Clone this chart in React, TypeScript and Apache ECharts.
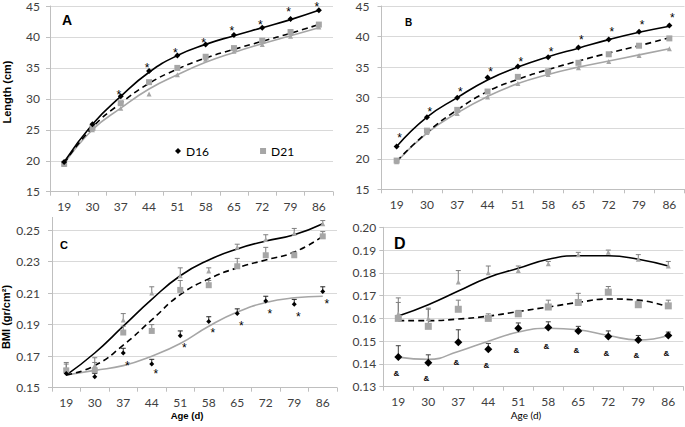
import React, { useEffect, useRef } from 'react';
import * as echarts from 'echarts';

// ---------- data ----------
const ages = ['19', '30', '37', '44', '51', '58', '65', '72', '79', '86'];

// Panel A (Length, cm)
const aDiamond = [19.8, 25.9, 30.4, 34.5, 37.0, 38.8, 40.3, 41.5, 42.9, 44.3];
const aSquare = [19.5, 25.3, 29.3, 32.7, 35.0, 36.8, 38.2, 39.4, 40.8, 42.0];
const aTriangle = [19.4, 25.0, 28.5, 30.8, 33.9, 36.4, 37.7, 38.8, 40.1, 41.6];
const aFitBlack = [19.8, 25.9, 30.4, 34.3, 37.0, 38.8, 40.2, 41.5, 42.8, 44.3];
const aFitDash = [19.6, 25.4, 29.3, 32.5, 34.8, 36.6, 38.0, 39.3, 40.6, 42.0];
const aFitGray = [19.5, 25.0, 28.5, 31.6, 33.9, 35.9, 37.5, 38.9, 40.2, 41.5];
const aStar = [null, null, 30.6, 35.0, 37.4, 39.1, 40.9, 42.0, 44.0, 44.8];

// Panel B (Length, cm)
const bDiamond = [22.0, 26.8, 30.0, 33.3, 35.1, 36.6, 38.2, 39.5, 40.8, 41.8];
const bSquare = [19.7, 24.6, 28.0, 31.0, 33.4, 34.3, 35.7, 37.1, 38.5, 39.7];
const bTriangle = [19.5, 24.3, 27.4, 30.1, 32.3, 33.8, 34.9, 35.9, 36.9, 38.0];
const bFitBlack = [22.0, 26.8, 30.0, 32.9, 35.0, 36.7, 38.1, 39.5, 40.7, 41.7];
const bFitDash = [19.6, 24.3, 28.0, 31.0, 33.0, 34.6, 36.0, 37.3, 38.5, 39.8];
const bFitGray = [19.5, 24.2, 27.5, 30.2, 32.3, 33.8, 35.0, 36.0, 37.0, 38.0];
const bStar = [23.4, 27.7, 31.0, 34.2, 35.9, 37.4, 39.5, 40.7, 41.9, 43.0];

// Panel C (BMI, gr/cm2)
const cTriangle = [0.161, 0.164, 0.193, 0.210, 0.221, 0.224, 0.239, 0.244, 0.248, 0.254];
const cTriangleTop = [0.165, 0.166, 0.197, 0.214, 0.226, 0.226, 0.241, 0.247, 0.251, 0.256];
const cSquare = [0.161, 0.161, 0.185, 0.186, 0.212, 0.215, 0.227, 0.234, 0.234, 0.246];
const cSquareTop = [0.166, 0.169, 0.189, 0.190, 0.218, 0.218, 0.232, 0.239, 0.236, 0.249];
const cDiamond = [0.159, 0.157, 0.172, 0.165, 0.183, 0.192, 0.197, 0.205, 0.203, 0.211];
const cDiamondTop = [0.162, 0.159, 0.175, 0.168, 0.186, 0.195, 0.200, 0.208, 0.206, 0.214];
const cFitBlack = [0.158, 0.172, 0.189, 0.206, 0.221, 0.231, 0.238, 0.243, 0.247, 0.254];
const cFitDash = [0.158, 0.164, 0.177, 0.193, 0.209, 0.219, 0.226, 0.231, 0.236, 0.246];
const cFitGray = [0.158, 0.161, 0.164, 0.170, 0.178, 0.189, 0.198, 0.204, 0.207, 0.208];
const cStar = [null, null, 0.164, 0.159, 0.175, 0.185, 0.189, 0.197, 0.195, 0.203];

// Panel D (BMI, gr/cm2)
const dTriangle = [0.162, 0.160, 0.176, 0.180, 0.181, 0.184, 0.188, 0.189, 0.186, 0.183];
const dTriangleTop = [0.169, 0.164, 0.181, 0.183, 0.183, 0.185, 0.189, 0.190, 0.188, 0.185];
const dSquare = [0.160, 0.1565, 0.164, 0.160, 0.162, 0.165, 0.167, 0.1715, 0.166, 0.1655];
const dSquareTop = [0.167, 0.1645, 0.168, 0.162, 0.1635, 0.168, 0.171, 0.174, 0.1675, 0.168];
const dDiamond = [0.143, 0.1405, 0.1495, 0.1465, 0.1557, 0.156, 0.1545, 0.152, 0.1505, 0.1525];
const dDiamondTop = [0.148, 0.144, 0.155, 0.149, 0.158, 0.1585, 0.1565, 0.1545, 0.1525, 0.154];
const dFitBlack = [0.161, 0.166, 0.172, 0.178, 0.182, 0.186, 0.1875, 0.1875, 0.186, 0.183];
const dFitDash = [0.159, 0.159, 0.1597, 0.161, 0.163, 0.165, 0.167, 0.1685, 0.168, 0.165];
const dFitGray = [0.143, 0.142, 0.1455, 0.150, 0.154, 0.1557, 0.155, 0.1525, 0.1505, 0.1525];
const dAmp = [0.1356, 0.1337, 0.1405, 0.1392, 0.1461, 0.1476, 0.1461, 0.1446, 0.1435, 0.1446];

// ---------- styling ----------
const FONT = 'Lato, "Open Sans", sans-serif';
const ARIAL = '"Liberation Sans", Arial, sans-serif';
const AXIS = '#bfbfbf';
const GRID = '#d9d9d9';
const LABEL = '#404040';
const GRAY = '#a6a6a6';

function fitLine(p: number, data: number[], color: string, dashed = false, width = 1.6) {
  return {
    type: 'line', xAxisIndex: p, yAxisIndex: p, data, smooth: 0.5, symbol: 'none',
    silent: true, z: 2,
    lineStyle: { color, width, type: dashed ? [6, 4] : 'solid' },
  };
}

function markers(p: number, data: number[], symbol: string, size: number, color: string, name?: string) {
  return {
    type: 'scatter', name, xAxisIndex: p, yAxisIndex: p, data, symbol, symbolSize: size,
    itemStyle: { color, opacity: 1 }, z: 4, silent: true,
  };
}

function errBars(p: number, vals: number[], tops: number[], color: string) {
  return {
    type: 'custom', xAxisIndex: p, yAxisIndex: p, silent: true, z: 3,
    data: vals.map((v, i) => [i, v, tops[i]]),
    renderItem: (_params: any, api: any) => {
      const b = api.coord([api.value(0), api.value(1)]);
      const t = api.coord([api.value(0), api.value(2)]);
      return {
        type: 'group',
        children: [
          { type: 'line', shape: { x1: b[0], y1: b[1], x2: t[0], y2: t[1] }, style: { stroke: color, lineWidth: 1 } },
          { type: 'line', shape: { x1: t[0] - 2.5, y1: t[1], x2: t[0] + 2.5, y2: t[1] }, style: { stroke: color, lineWidth: 1 } },
        ],
      };
    },
  };
}

function notes(p: number, vals: (number | null)[], ch: string, dx: number, fontSize: number, weight = 'normal') {
  const data = vals.map((v, i) => (v == null ? null : [i, v])).filter((d) => d !== null);
  return {
    type: 'custom', xAxisIndex: p, yAxisIndex: p, silent: true, z: 5, clip: false,
    data,
    renderItem: (_params: any, api: any) => {
      const c = api.coord([api.value(0), api.value(1)]);
      return {
        type: 'text', x: c[0] + dx, y: c[1],
        style: {
          text: ch, fill: '#000', fontSize, fontWeight: weight, fontFamily: ARIAL,
          align: 'center', verticalAlign: 'middle', textAlign: 'center', textVerticalAlign: 'middle',
        },
      };
    },
  };
}

function xAxis(p: number) {
  return {
    type: 'category', gridIndex: p, data: ages, boundaryGap: true,
    axisLine: { show: true, lineStyle: { color: AXIS } },
    axisTick: { show: true, length: 4, lineStyle: { color: AXIS } },
    axisLabel: { color: LABEL, fontSize: 12, fontFamily: FONT, margin: 9, interval: 0 },
    splitLine: { show: false },
  };
}

function yAxis(p: number, min: number, max: number, interval: number, digits: number, margin: number, hideMax = false) {
  return {
    type: 'value', gridIndex: p, min, max, interval,
    axisLine: { show: true, lineStyle: { color: AXIS } },
    axisTick: { show: true, length: 4, lineStyle: { color: AXIS } },
    splitLine: { show: true, showMaxLine: !hideMax, lineStyle: { color: GRID, width: 1 } },
    axisLabel: {
      color: LABEL, fontSize: 12, fontFamily: FONT, margin, showMaxLabel: !hideMax,
      formatter: (v: number) => v.toFixed(digits),
    },
  };
}

export default function App() {
  const ref = useRef<HTMLDivElement>(null);
  useEffect(() => {
    if (!ref.current) return;
    const chart = echarts.init(ref.current, undefined, { renderer: 'svg' });
    const option: any = {
      animation: false,
      backgroundColor: '#ffffff',
      grid: [
        { left: 50, top: 4.7, width: 283, height: 187 },
        { left: 381.5, top: 6, width: 303, height: 183.3 },
        { left: 52, top: 217.4, width: 285, height: 170.3 },
        { left: 383.3, top: 227.3, width: 300, height: 159.4 },
      ],
      xAxis: [xAxis(0), xAxis(1), xAxis(2), xAxis(3)],
      yAxis: [
        yAxis(0, 15, 45, 5, 0, 10),
        yAxis(1, 15, 45, 5, 0, 12),
        yAxis(2, 0.15, 0.258, 0.02, 2, 12, true),
        yAxis(3, 0.13, 0.2, 0.01, 2, 7),
      ],
      legend: {
        left: 170, top: 140, itemWidth: 6, itemHeight: 6, itemGap: 51,
        selectedMode: false,
        textStyle: { fontSize: 12, fontFamily: FONT, color: '#000' },
        data: [
          { name: 'D16', icon: 'diamond' },
          { name: 'D21', icon: 'rect' },
        ],
      },
      graphic: [
        { type: 'text', x: 62, y: 13, style: { text: 'A', fontSize: 14, fontWeight: 'bold', fontFamily: ARIAL, fill: '#000' } },
        { type: 'text', x: 405, y: 17, style: { text: 'B', fontSize: 10, fontWeight: 'bold', fontFamily: ARIAL, fill: '#000' } },
        { type: 'text', x: 60, y: 239, style: { text: 'C', fontSize: 11, fontWeight: 'bold', fontFamily: ARIAL, fill: '#000' } },
        { type: 'text', x: 394, y: 235, style: { text: 'D', fontSize: 16, fontWeight: 'bold', fontFamily: ARIAL, fill: '#000' } },
        {
          type: 'text', x: 7, y: 92, rotation: Math.PI / 2,
          style: { text: 'Length (cm)', fontSize: 11, fontWeight: 'bold', fontFamily: ARIAL, fill: '#000', align: 'center', verticalAlign: 'middle' },
        },
        {
          type: 'text', x: 6, y: 317, rotation: Math.PI / 2,
          style: { text: 'BMI (gr/cm²)', fontSize: 11, fontWeight: 'bold', fontFamily: ARIAL, fill: '#000', align: 'center', verticalAlign: 'middle' },
        },
        {
          type: 'text', x: 187, y: 415,
          style: { text: 'Age (d)', fontSize: 9.5, fontWeight: 'bold', fontFamily: ARIAL, fill: '#000', align: 'center', verticalAlign: 'middle' },
        },
        {
          type: 'text', x: 526, y: 415,
          style: { text: 'Age (d)', fontSize: 10, fontFamily: FONT, fill: '#000', align: 'center', verticalAlign: 'middle' },
        },
      ],
      series: [
        // Panel A
        fitLine(0, aFitGray, GRAY),
        fitLine(0, aFitDash, '#000', true),
        fitLine(0, aFitBlack, '#000'),
        markers(0, aTriangle, 'triangle', 5, GRAY),
        markers(0, aSquare, 'rect', 6, GRAY, 'D21'),
        markers(0, aDiamond, 'diamond', 6, '#000', 'D16'),
        notes(0, aStar, '*', -2, 12),
        // Panel B
        fitLine(1, bFitGray, GRAY),
        fitLine(1, bFitDash, '#000', true),
        fitLine(1, bFitBlack, '#000'),
        markers(1, bTriangle, 'triangle', 5, GRAY),
        markers(1, bSquare, 'rect', 6, GRAY),
        markers(1, bDiamond, 'diamond', 6, '#000'),
        notes(1, bStar, '*', 3, 12),
        // Panel C
        fitLine(2, cFitGray, GRAY),
        fitLine(2, cFitDash, '#000', true),
        fitLine(2, cFitBlack, '#000'),
        errBars(2, cTriangle, cTriangleTop, '#7f7f7f'),
        errBars(2, cSquare, cSquareTop, '#7f7f7f'),
        errBars(2, cDiamond, cDiamondTop, '#262626'),
        markers(2, cTriangle, 'triangle', 5, GRAY),
        markers(2, cSquare, 'rect', 6, GRAY),
        markers(2, cDiamond, 'diamond', 5, '#000'),
        notes(2, cStar, '*', 4, 12),
        // Panel D
        fitLine(3, dFitGray, GRAY),
        fitLine(3, dFitDash, '#000', true),
        fitLine(3, dFitBlack, '#000'),
        errBars(3, dTriangle, dTriangleTop, '#7f7f7f'),
        errBars(3, dSquare, dSquareTop, '#7f7f7f'),
        errBars(3, dDiamond, dDiamondTop, '#404040'),
        markers(3, dTriangle, 'triangle', 5, GRAY),
        markers(3, dSquare, 'rect', 7, GRAY),
        markers(3, dDiamond, 'diamond', 8, '#000'),
        notes(3, dAmp, '&', -2, 8, 'bold'),
      ],
    };
    chart.setOption(option);
    return () => chart.dispose();
  }, []);
  return <div ref={ref} style={{ position: 'fixed', left: 0, top: 0, width: 685, height: 427 }} />;
}
